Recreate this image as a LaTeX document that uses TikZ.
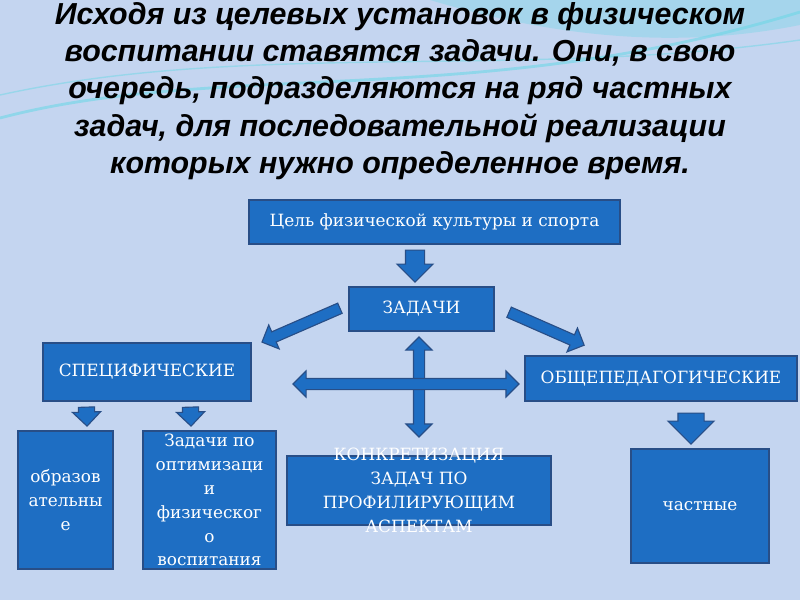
\documentclass[tikz,border=0pt]{standalone}
\usepackage{fontspec}
\setmainfont{DejaVu Serif}
\newfontfamily\headfont{Liberation Sans}
\usetikzlibrary{shapes.arrows,calc}
\definecolor{boxblue}{RGB}{30,110,195}
\definecolor{boxedge}{RGB}{40,78,135}
\definecolor{bgblue}{RGB}{196,213,240}
\definecolor{wave}{RGB}{110,215,230}
\newcommand\pxu{0.025cm}
\tikzset{
  box/.style={
    rectangle, draw=boxedge, line width=0.8pt, fill=boxblue,
    text=white, inner sep=0pt, align=center,
    font=\fontsize{12}{17}\selectfont
  },
  boxtext/.style={text=white, inner sep=0pt, align=center,
                  font=\fontsize{12}{17}\selectfont},
  title/.style={align=center, text=black,
                font=\headfont\bfseries\itshape\fontsize{21.6}{26.6}\selectfont},
  % length, shaft width, head extend
  blk/.style n args={3}{
    single arrow, draw=boxedge, fill=boxblue, line width=0.8pt,
    inner xsep=0pt, inner ysep=#2/2*\pxu, minimum height=#1*\pxu,
    single arrow head extend=#3*\pxu, sloped, allow upside down,
    pos=0, anchor=tail
  },
  dblk/.style n args={3}{
    double arrow, draw=boxedge, fill=boxblue, line width=0.8pt,
    inner xsep=0pt, inner ysep=#2/2*\pxu, minimum height=#1*\pxu,
    double arrow head extend=#3*\pxu, sloped, allow upside down
  }
}

\begin{document}
\begin{tikzpicture}[x=0.025cm, y=-0.025cm]
  % background
  \fill[bgblue] (0,0) rectangle (800,600);
  \useasboundingbox (0,0) rectangle (800,600);
  \fill[wave, opacity=0.35] (430,0) .. controls (580,45) and (700,45) .. (800,25) -- (800,0) -- cycle;
  \draw[wave, line width=2pt, opacity=0.6] (0,118) .. controls (220,60) and (480,110) .. (800,12);
  \draw[wave, line width=1pt, opacity=0.5] (0,95) .. controls (250,40) and (520,80) .. (800,40);

  \node[title] (head) at (400,91) {%
    Исходя из целевых установок в физическом\\
    воспитании ставятся задачи. Они, в свою\\
    очередь, подразделяются на ряд частных\\
    задач, для последовательной реализации\\
    которых нужно определенное время.};

  \node[box, minimum width=371*\pxu, minimum height=44*\pxu] (goal) at (434.5,222) {Цель физической культуры и спорта};
  \node[box, minimum width=145*\pxu, minimum height=44*\pxu] (tasks) at (421.5,309) {ЗАДАЧИ};
  \node[box, minimum width=208*\pxu, minimum height=58*\pxu] (spec) at (147,372) {СПЕЦИФИЧЕСКИЕ};
  \node[box, minimum width=272*\pxu, minimum height=45*\pxu] (gen) at (661,378.5) {ОБЩЕПЕДАГОГИЧЕСКИЕ};
  \node[box, minimum width=95*\pxu, minimum height=138*\pxu] (edu) at (65.5,500) {образов\\ательны\\е};
  \node[box, minimum width=133*\pxu, minimum height=138*\pxu,
        label={[boxtext]center:{Задачи по\\оптимизаци\\и\\физическог\\о\\воспитания}}] (opt) at (209.5,500) {};
  \node[box, minimum width=264*\pxu, minimum height=69*\pxu,
        label={[boxtext]center:{КОНКРЕТИЗАЦИЯ\\ЗАДАЧ ПО\\ПРОФИЛИРУЮЩИМ\\АСПЕКТАМ}}] (conc) at (419,490.5) {};
  \node[box, minimum width=138*\pxu, minimum height=114*\pxu] (part) at (700,506) {частные};

  % block arrows
  \path ($(goal.south)+(-19.5,5)$) -- node[blk={32}{18}{8.5}] {} ($(tasks.north)+(-6.5,-6)$);
  \path ($(tasks.west)+(-8,-1)$) -- node[blk={85}{10}{7.5}] {} ($(spec.north east)+(12,-1)$);
  \path ($(tasks.east)+(14,3)$) -- node[blk={82}{10}{7.5}] {} ($(gen.north west)+(58,-11)$);
  \path ($(tasks.south)+(-2.5,6)$) -- node[dblk={100}{10}{7.5}] {} ($(conc.north)+(0,-19)$);
  \path ($(spec.east)+(42,12)$) -- node[dblk={226}{10}{7.5}] {} ($(gen.west)+(-6,5.5)$);
  \path ($(spec.south west)+(44,5)$) -- node[blk={19}{15}{6}] {} ($(edu.north)+(21.5,-6)$);
  \path ($(spec.south west)+(148,5)$) -- node[blk={19}{15}{6}] {} ($(opt.north)+(-18.5,-6)$);
  \path ($(gen.south)+(30,11)$) -- node[blk={31}{25}{10}] {} ($(part.north)+(-9,-6)$);
\end{tikzpicture}
\end{document}
